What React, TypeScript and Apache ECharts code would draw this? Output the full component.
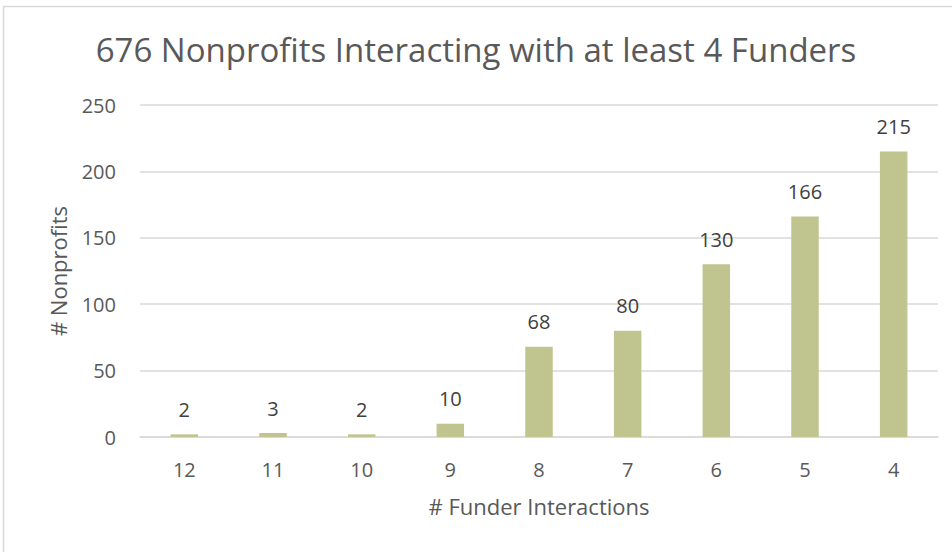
import React, { useEffect, useRef } from "react";
import * as echarts from "echarts";

const categories = ["12", "11", "10", "9", "8", "7", "6", "5", "4"];
const values = [2, 3, 2, 10, 68, 80, 130, 166, 215];
const titleText = "676 Nonprofits Interacting with at least 4 Funders";
const xName = "# Funder Interactions";
const yName = "# Nonprofits";

export default function App() {
  const ref = useRef<HTMLDivElement>(null);
  useEffect(() => {
    if (!ref.current) return;
    const chart = echarts.init(ref.current, null, { renderer: "svg" });
    const font = "Open Sans, Noto Sans, sans-serif";
    chart.setOption({
      animation: false,
      backgroundColor: "#ffffff",
      textStyle: { fontFamily: font },
      title: {
        text: titleText,
        left: "center",
        top: 28,
        textStyle: { fontSize: 33, fontWeight: "normal", color: "#595959", fontFamily: font },
      },
      graphic: [
        {
          type: "rect",
          shape: { x: 3.5, y: 6.5, width: 1000, height: 600 },
          style: { fill: "none", stroke: "#d9d9d9", lineWidth: 1.5 },
          silent: true,
        },
      ],
      grid: { left: 140, right: 14, top: 105, bottom: 115 },
      xAxis: {
        type: "category",
        data: categories,
        name: xName,
        nameLocation: "middle",
        nameGap: 58,
        nameTextStyle: { fontSize: 22, color: "#595959" },
        axisLine: { lineStyle: { color: "#d9d9d9", width: 1.5 } },
        axisTick: { show: false },
        axisLabel: { fontSize: 20, color: "#595959", margin: 22 },
      },
      yAxis: {
        type: "value",
        min: 0,
        max: 250,
        interval: 50,
        name: yName,
        nameLocation: "middle",
        nameGap: 71,
        nameTextStyle: { fontSize: 22, color: "#595959" },
        axisLine: { show: false },
        axisTick: { show: false },
        axisLabel: { fontSize: 20, color: "#595959", margin: 24 },
        splitLine: { lineStyle: { color: "#d9d9d9", width: 1.5 } },
      },
      series: [
        {
          type: "bar",
          data: values,
          barWidth: "31%",
          itemStyle: { color: "#c0c48f" },
          label: {
            show: true,
            position: "top",
            distance: 15,
            fontSize: 20,
            color: "#404040",
          },
        },
      ],
    });
    return () => chart.dispose();
  }, []);
  return (
    <div
      ref={ref}
      style={{ position: "absolute", left: 0, top: 0, width: 952, height: 552 }}
    />
  );
}
